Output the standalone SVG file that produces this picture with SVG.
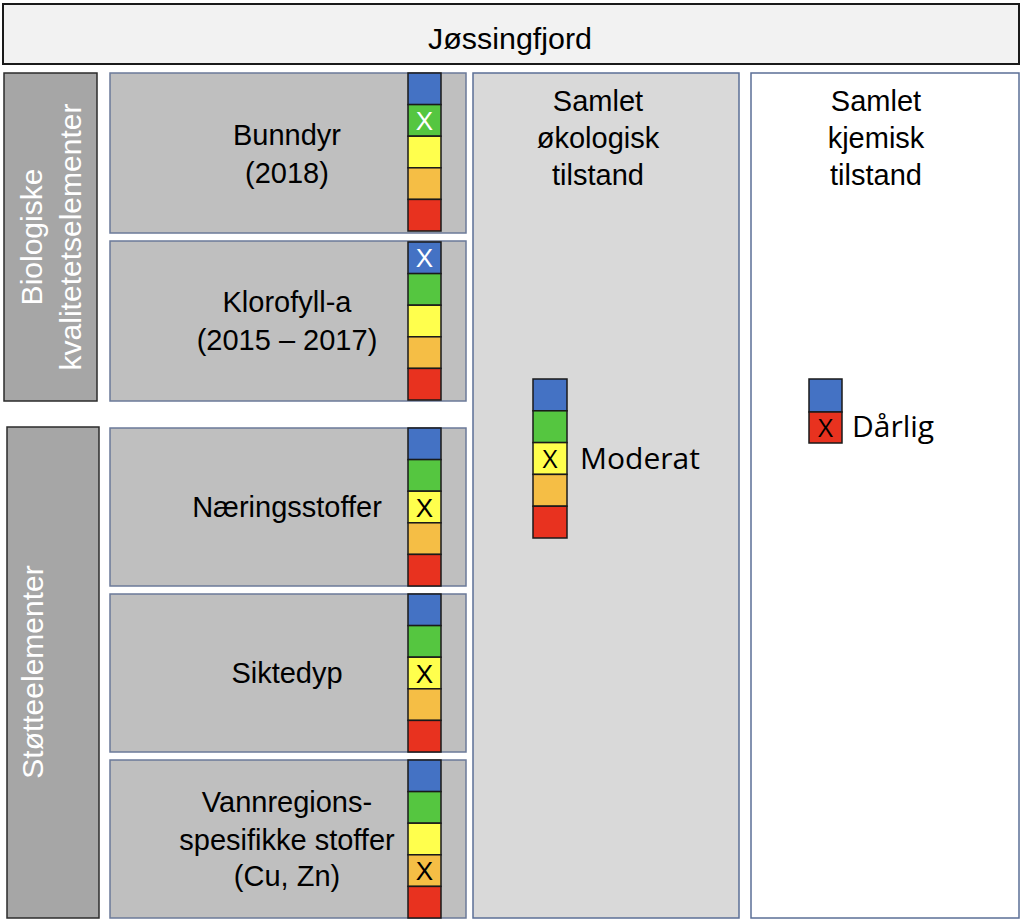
<svg xmlns="http://www.w3.org/2000/svg" width="1023" height="923" viewBox="0 0 1023 923">
<style>
.t{font-family:"Liberation Sans",Arial,sans-serif;font-size:29px;fill:#000;text-anchor:middle}
.w{font-family:"Liberation Sans",Arial,sans-serif;font-size:30px;fill:#fff;text-anchor:middle}
.c{font-family:"Open Sans","Liberation Sans",sans-serif;font-size:30px;fill:#000}
.x{font-family:"Liberation Sans",Arial,sans-serif;font-size:26px;text-anchor:middle}
.xc{font-family:"Open Sans","Liberation Sans",sans-serif;font-size:26px;text-anchor:middle;fill:#000}
.side{fill:#a6a6a6;stroke:#2b2b2b;stroke-width:1.5}
.el{fill:#bfbfbf;stroke:#6b7a99;stroke-width:1.5}
.cell{stroke:#1a1a1a;stroke-width:1.5}
.b{fill:#4472c4}.g{fill:#55c640}.y{fill:#ffff4d}.o{fill:#f5be45}.r{fill:#e8321f}
</style>

<g id="title">
<rect x="3" y="4" width="1016" height="60" fill="#f2f2f2" stroke="#1a1a1a" stroke-width="2"/>
<text class="t" x="510" y="49" textLength="164" lengthAdjust="spacingAndGlyphs">Jøssingfjord</text>
</g>

<g id="bio-label">
<rect class="side" x="4" y="73" width="93" height="328"/>
<text class="w" transform="translate(42,237) rotate(-90)">Biologiske</text>
<text class="w" transform="translate(81,237) rotate(-90)">kvalitetetselementer</text>
</g>

<g id="stotte-label">
<rect class="side" x="7" y="427" width="92" height="491"/>
<text class="w" transform="translate(43,672) rotate(-90)">Støtteelementer</text>
</g>

<g id="bunndyr">
<rect class="el" x="110" y="73" width="356" height="160"/>
<text class="t" x="287" y="145">Bunndyr</text>
<text class="t" x="287" y="183">(2018)</text>
<rect class="cell b" x="408" y="73" width="33" height="31.6"/>
<rect class="cell g" x="408" y="104.6" width="33" height="31.6"/>
<rect class="cell y" x="408" y="136.2" width="33" height="31.6"/>
<rect class="cell o" x="408" y="167.8" width="33" height="31.6"/>
<rect class="cell r" x="408" y="199.4" width="33" height="31.6"/>
<text class="x" x="424.5" y="130" fill="#fff">X</text>
</g>

<g id="klorofyll">
<rect class="el" x="110" y="241" width="356" height="160"/>
<text class="t" x="287" y="312">Klorofyll-a</text>
<text class="t" x="287" y="350">(2015 – 2017)</text>
<rect class="cell b" x="408" y="242" width="33" height="31.6"/>
<rect class="cell g" x="408" y="273.6" width="33" height="31.6"/>
<rect class="cell y" x="408" y="305.2" width="33" height="31.6"/>
<rect class="cell o" x="408" y="336.8" width="33" height="31.6"/>
<rect class="cell r" x="408" y="368.4" width="33" height="31.6"/>
<text class="x" x="424.5" y="267" fill="#fff">X</text>
</g>

<g id="naering">
<rect class="el" x="110" y="428" width="356" height="158"/>
<text class="t" x="287" y="517">Næringsstoffer</text>
<rect class="cell b" x="408" y="428" width="33" height="31.6"/>
<rect class="cell g" x="408" y="459.6" width="33" height="31.6"/>
<rect class="cell y" x="408" y="491.2" width="33" height="31.6"/>
<rect class="cell o" x="408" y="522.8" width="33" height="31.6"/>
<rect class="cell r" x="408" y="554.4" width="33" height="31.6"/>
<text class="x" x="424.5" y="516.5" fill="#000">X</text>
</g>

<g id="siktedyp">
<rect class="el" x="110" y="594" width="356" height="158"/>
<text class="t" x="287" y="683">Siktedyp</text>
<rect class="cell b" x="408" y="594" width="33" height="31.6"/>
<rect class="cell g" x="408" y="625.6" width="33" height="31.6"/>
<rect class="cell y" x="408" y="657.2" width="33" height="31.6"/>
<rect class="cell o" x="408" y="688.8" width="33" height="31.6"/>
<rect class="cell r" x="408" y="720.4" width="33" height="31.6"/>
<text class="x" x="424.5" y="682.5" fill="#000">X</text>
</g>

<g id="vannregion">
<rect class="el" x="110" y="760" width="356" height="158"/>
<text class="t" x="287" y="812">Vannregions-</text>
<text class="t" x="287" y="850">spesifikke stoffer</text>
<text class="t" x="287" y="886">(Cu, Zn)</text>
<rect class="cell b" x="408" y="760" width="33" height="31.6"/>
<rect class="cell g" x="408" y="791.6" width="33" height="31.6"/>
<rect class="cell y" x="408" y="823.2" width="33" height="31.6"/>
<rect class="cell o" x="408" y="854.8" width="33" height="31.6"/>
<rect class="cell r" x="408" y="886.4" width="33" height="31.6"/>
<text class="x" x="424.5" y="880" fill="#000">X</text>
</g>

<g id="okologisk">
<rect x="473" y="73" width="266" height="845" fill="#d9d9d9" stroke="#5b6f96" stroke-width="1.5"/>
<text class="t" x="598" y="111">Samlet</text>
<text class="t" x="598" y="148">økologisk</text>
<text class="t" x="598" y="185">tilstand</text>
<rect class="cell b" x="533" y="379" width="34" height="31.8"/>
<rect class="cell g" x="533" y="410.8" width="34" height="31.8"/>
<rect class="cell y" x="533" y="442.6" width="34" height="31.8"/>
<rect class="cell o" x="533" y="474.4" width="34" height="31.8"/>
<rect class="cell r" x="533" y="506.2" width="34" height="31.8"/>
<text class="xc" x="550" y="468">X</text>
<text class="c" x="580" y="469">Moderat</text>
</g>

<g id="kjemisk">
<rect x="751" y="73" width="268" height="845" fill="#ffffff" stroke="#5b6f96" stroke-width="1.5"/>
<text class="t" x="876" y="111">Samlet</text>
<text class="t" x="876" y="148">kjemisk</text>
<text class="t" x="876" y="185">tilstand</text>
<rect class="cell b" x="809" y="379" width="33" height="33"/>
<rect class="cell r" x="809" y="412" width="33" height="31"/>
<text class="xc" x="825.5" y="437">X</text>
<text class="c" x="852" y="437">Dårlig</text>
</g>
</svg>
